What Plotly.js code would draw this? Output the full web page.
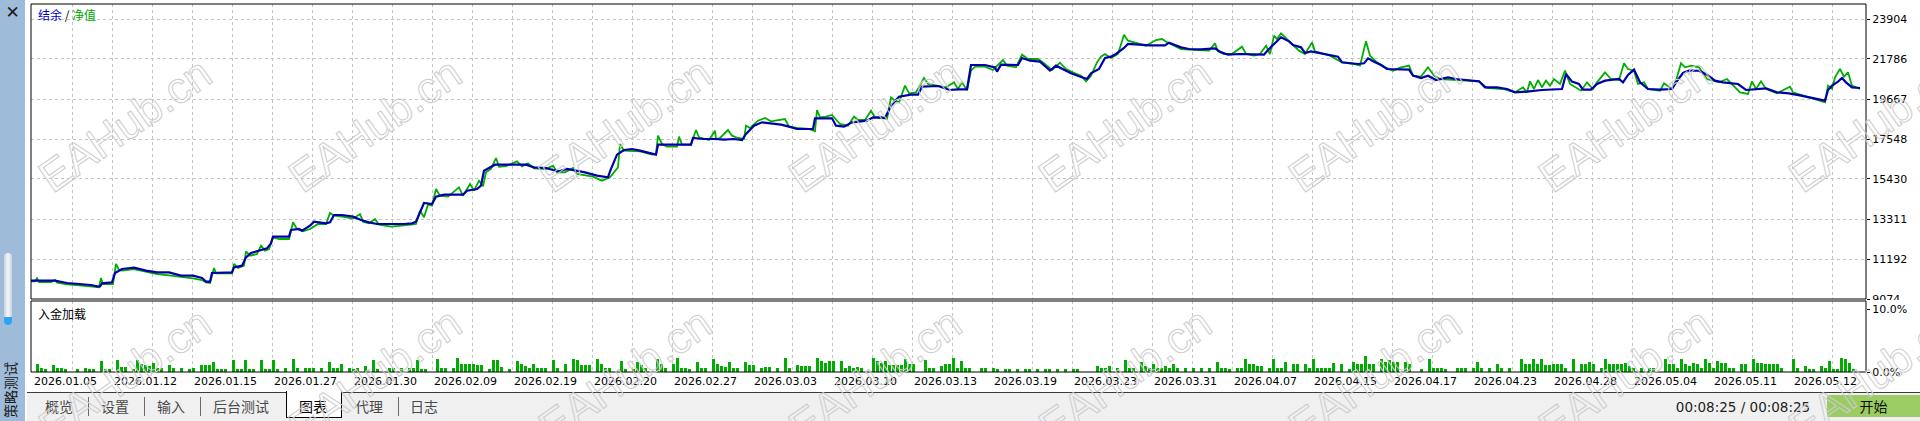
<!DOCTYPE html>
<html>
<head>
<meta charset="utf-8">
<script src="https://cdn.plot.ly/plotly-3.0.1.min.js"></script>
<style>
  html,body{margin:0;padding:0;background:#fff;width:1920px;height:421px;overflow:hidden;}
  #chart{position:absolute;left:0;top:0;width:1920px;height:421px;z-index:1;}
  .abs{position:absolute;}
  #sidebar{left:0;top:0;width:25px;height:421px;background:#9FBBDA;z-index:2;}
  #tabbar{left:27px;top:392px;width:1893px;height:29px;background:#F0F0F0;border-top:1px solid #3a3a3a;box-sizing:border-box;z-index:2;}
  .tab{top:396px;height:20px;line-height:20px;font-family:"Noto Sans CJK SC";font-size:14px;color:#4a4a4a;z-index:3;}
  .sep{top:397px;width:1px;height:19px;background:#6a6a6a;z-index:3;}
  #seltab{left:286px;top:391px;width:56px;height:27px;background:#fff;border:1.5px solid #000;border-top:none;box-sizing:border-box;z-index:3;}
  .wm{font-family:"Liberation Sans";font-size:44px;color:transparent;-webkit-text-stroke:1px #cdcdcd;white-space:nowrap;z-index:5;pointer-events:none;}
</style>
</head>
<body>
<div id="chart"></div>
<div id="chrome"></div>
<script>
// ---------------- DATA ----------------
const yTickValues = [9074, 11192, 13311, 15430, 17548, 19667, 21786, 23904];
const subTickValues = [0, 10];
const subTickText = ['0.0%', '10.0%'];
const dateLabels = ['2026.01.05','2026.01.12','2026.01.15','2026.01.27','2026.01.30','2026.02.09','2026.02.19','2026.02.20','2026.02.27','2026.03.03','2026.03.10','2026.03.13','2026.03.19','2026.03.23','2026.03.31','2026.04.07','2026.04.15','2026.04.17','2026.04.23','2026.04.28','2026.05.04','2026.05.11','2026.05.12'];
const seriesNames = ['结余', '净值'];
const subTitle = '入金加载';

// balance [deal index, value]
const balance = [[0,10045],[24,10045],[36,9921],[48,9868],[60,9815],[66,9745],[69,9745],[71,9904],[81,9957],[84,10451],[91,10663],[103,10734],[115,10575],[126,10486],[138,10486],[150,10310],[162,10310],[171,10186],[175,9992],[179,9992],[181,10451],[201,10486],[203,10751],[211,10840],[215,11281],[220,11510],[228,11634],[236,11757],[240,12022],[242,12375],[258,12375],[260,12728],[268,12781],[271,12693],[279,12958],[283,13170],[295,13082],[299,13135],[303,13523],[311,13523],[322,13435],[330,13258],[338,13135],[346,13046],[373,13046],[381,13082],[385,13170],[393,14159],[401,14106],[405,14494],[413,14600],[432,14600],[436,14812],[446,14900],[450,15077],[453,15871],[464,16189],[479,16171],[495,16189],[503,16048],[515,16013],[522,15907],[528,15836],[536,15960],[542,15907],[554,15783],[566,15606],[575,15518],[577,15518],[579,15836],[586,16719],[593,16966],[601,17019],
[609,16930],[617,16807],[625,16719],[627,17248],[660,17248],[662,17601],[672,17548],[684,17548],[693,17513],[703,17548],[711,17495],[715,17813],[723,18255],[731,18431],[742,18343],[750,18308],[758,18202],[766,18078],[782,18078],[784,18643],[801,18643],[805,18255],[813,18202],[821,18431],[836,18519],[842,18696],[854,18661],[860,19314],[868,19791],[880,19897],[887,19897],[891,20320],[907,20355],[919,20144],[927,20179],[936,20179],[940,21468],[954,21468],[964,21344],[966,21115],[970,21486],[978,21486],[987,21468],[991,21839],[999,21697],[1009,21644],[1013,21468],[1019,21168],[1025,21433],[1033,21203],[1040,21027],[1048,20868],[1056,20726],[1060,21027],[1068,21256],[1074,21839],[1080,21909],[1085,22050],[1093,22368],[1097,22580],[1111,22527],[1119,22510],[1134,22510],[1138,22651],[1150,22404],[1158,22315],[1170,22298],[1184,22351],[1189,22174],[1197,22015],[1209,22050],[1221,22015],
[1233,22015],[1237,22262],[1243,22580],[1250,22933],[1258,22721],[1262,22527],[1270,22404],[1274,22103],[1280,22192],[1292,22050],[1307,21909],[1311,21609],[1327,21521],[1333,21556],[1337,21821],[1343,21644],[1350,21468],[1356,21256],[1366,21256],[1378,21221],[1382,20903],[1390,20779],[1397,20903],[1405,20673],[1417,20815],[1425,20726],[1435,20673],[1448,20603],[1454,20285],[1466,20285],[1476,20197],[1484,20020],[1496,20055],[1511,20144],[1531,20197],[1535,20991],[1541,20585],[1548,20461],[1552,20161],[1560,20161],[1566,20461],[1574,20638],[1588,20726],[1592,20550],[1597,20938],[1603,21221],[1609,20550],[1617,20197],[1629,20161],[1641,20197],[1645,20550],[1652,21044],[1658,21168],[1668,21168],[1676,20956],[1684,20638],[1692,20550],[1707,20461],[1715,20144],[1725,20197],[1735,20232],[1746,20020],[1758,19967],[1770,19844],[1782,19703],[1794,19579],[1797,20144],[1801,20373],[1807,20585],[1811,20779],[1815,20550],[1821,20285],[1829,20250]];

// equity [deal index, value]
const equity = [[0,10010],[4,10010],[6,10169],[8,9974],[20,9974],[24,10080],[26,9939],[36,9851],[48,9798],[60,9727],[66,9692],[68,9692],[70,10186],[72,9868],[82,9868],[85,10928],[88,10610],[91,10575],[103,10663],[115,10504],[126,10398],[138,10327],[150,10257],[162,10169],[171,10080],[175,9957],[179,9921],[183,10716],[185,10433],[201,10433],[203,10928],[207,10716],[213,10840],[215,11598],[219,11369],[226,11457],[230,11899],[234,11634],[238,11722],[242,12340],[248,12252],[258,12252],[262,13135],[266,12781],[272,12658],[279,12781],[287,13046],[295,13046],[299,13629],[303,13488],[311,13435],[322,13329],[329,13576],[332,13170],[338,13082],[344,13311],[348,13011],[360,12905],[373,12976],[385,13046],[389,13753],[393,13400],[397,14070],[401,14017],[405,14900],[409,14547],[417,14494],[428,14988],[432,14547],[439,15165],[443,14812],[448,15342],[452,15041],[455,15783],[460,15960],[465,16542],[468,16083],[475,16118],[486,16365],[491,16101],[497,16260],[503,15995],[515,15960],[522,16136],[526,15783],[534,15783],[542,16013],[546,15695],[562,15553],[571,15342],[579,15518],[587,16048],[589,17284],[593,16930],
[609,16895],[615,16789],[621,16719],[625,16754],[627,17725],[631,17284],[636,17142],[646,17142],[648,17672],[651,17248],[660,17248],[665,18025],[668,17637],[678,17495],[684,17990],[685,17548],[689,17601],[697,18025],[701,17725],[707,17601],[713,17548],[715,18255],[719,18131],[727,18519],[734,18661],[740,18484],[748,18555],[754,18608],[758,18202],[766,18131],[778,18078],[784,17954],[786,19084],[789,18696],[795,18731],[801,18820],[809,18343],[817,18255],[823,18731],[827,18555],[834,18555],[840,19049],[844,18696],[850,18731],[856,18608],[860,19755],[864,19579],[868,19490],[874,20373],[878,19967],[885,20020],[893,20779],[897,20461],[907,20373],[915,20285],[923,20550],[927,20197],[931,20550],[936,20144],[940,21168],[944,21380],[954,21380],[962,21203],[972,21733],[976,21433],[985,21344],[991,22015],[997,21786],[1007,21786],[1013,21556],[1021,21203],[1029,21591],[1035,21256],[1044,21027],[1050,20903],[1055,20603],[1060,20903],[1066,21609],[1070,21909],[1074,22050],[1080,21839],[1087,22050],[1093,23074],[1097,22757],[1107,22615],[1115,22492],[1125,22792],[1131,22845],[1136,22668],[1150,22315],[1166,22262],[1178,22227],[1184,22615],[1187,22192],[1193,22050],[1201,22050],[1211,22439],[1215,22050],[1223,21962],
[1229,22050],[1235,22492],[1239,22050],[1243,23021],[1246,22845],[1250,23145],[1256,22845],[1260,22615],[1268,22227],[1274,22050],[1281,22668],[1284,22192],[1299,21962],[1311,21609],[1323,21521],[1329,21433],[1335,22721],[1339,21962],[1346,21609],[1354,21344],[1362,21168],[1370,21344],[1378,21433],[1382,20903],[1390,20850],[1397,21344],[1403,20903],[1409,20726],[1425,20673],[1448,20603],[1456,20250],[1472,20197],[1484,20020],[1492,20285],[1496,20020],[1499,20603],[1503,20197],[1507,20673],[1511,20285],[1515,20638],[1519,20373],[1523,20726],[1529,20461],[1534,21168],[1539,20461],[1550,20108],[1556,20550],[1562,20197],[1566,20550],[1574,21079],[1580,20726],[1588,20673],[1593,21556],[1597,21256],[1603,21168],[1607,20461],[1613,20550],[1617,20197],[1629,20108],[1633,20497],[1641,20197],[1645,20638],[1650,21556],[1654,21344],[1660,21433],[1668,21344],[1676,20726],[1688,20550],[1696,20726],[1703,20373],[1709,20020],[1717,19932],[1721,20603],[1725,20197],[1730,20603],[1735,20197],[1746,19967],[1759,20320],[1762,20020],[1778,19755],[1790,19579],[1794,19490],[1797,20373],[1801,20197],[1804,20815],[1809,21256],[1813,20850],[1817,21079],[1821,20373],[1829,20197]];

// deposit load [bar slot, percent]
const depositLoad = [[1,1.3],[2,0.6],[3,0.4],[5,1.1],[6,0.6],[7,0.6],[8,0.4],[11,0.4],[13,0.7],[14,0.4],[15,0.4],[17,1.7],[18,0.5],[19,0.5],[21,1.9],[22,0.8],[23,0.8],[25,0.4],[26,1.9],[27,1.2],[28,1.1],[29,1.0],[30,1.4],[31,0.6],[32,0.6],[34,1.1],[35,0.6],[37,0.6],[39,0.4],[40,0.6],[42,1.1],[43,1.1],[44,1.1],[45,1.6],[46,0.5],[47,0.5],[48,0.5],[50,1.9],[51,0.5],[52,0.5],[53,1.9],[54,0.5],[55,0.5],[57,1.9],[58,0.5],[59,0.5],[60,1.9],[61,0.5],[63,0.6],[65,2.1],[66,0.6],[68,0.6],[69,0.6],[70,0.6],[72,0.6],[74,1.6],[75,0.6],[76,0.6],[77,1.2],[79,0.6],[80,0.4],[81,0.6],[83,1.0],[85,1.9],[86,0.5],[89,0.6],[90,0.6],[92,0.6],[94,0.6],[95,0.6],[96,1.9],[97,0.4],[98,0.4],[101,2.1],[102,0.7],[103,0.7],[105,0.6],[106,2.2],[107,1.2],[108,1.2],[109,1.2],[110,1.2],[111,1.1],[112,1.1],[114,0.4],[115,1.9],
[116,1.9],[117,0.8],[119,0.4],[121,1.7],[122,1.2],[123,1.0],[124,0.6],[125,1.2],[126,0.6],[127,0.6],[128,0.6],[130,1.9],[131,0.6],[133,1.2],[135,2.0],[136,1.9],[137,1.1],[138,1.1],[139,1.1],[141,2.0],[142,1.2],[143,0.6],[144,0.6],[147,1.8],[148,0.4],[150,0.4],[151,1.6],[152,1.1],[153,0.6],[156,2.0],[157,1.2],[158,0.6],[160,1.2],[161,2.2],[162,0.6],[163,0.6],[164,0.4],[166,1.6],[167,0.6],[168,0.6],[170,2.0],[171,1.2],[172,1.0],[173,0.8],[174,1.6],[175,0.6],[176,0.6],[178,1.6],[179,1.1],[180,1.1],[182,0.6],[183,0.8],[184,0.8],[186,0.6],[188,2.2],[189,0.6],[191,1.1],[192,1.0],[193,1.0],[194,1.0],[196,2.2],[197,1.7],[198,1.4],[199,1.8],[200,1.8],[202,1.8],[203,0.6],[204,1.0],[205,0.6],[206,0.8],[207,0.6],[210,2.2],[211,1.7],[212,1.4],[213,1.7],[214,1.1],[215,1.1],[216,1.1],[217,1.1],[218,2.0],[219,1.2],[220,1.2],[223,1.9],[224,0.6],[225,0.6],[227,1.0],[228,1.2],[229,1.2],[230,2.2],[231,0.6],[232,1.7],
[233,0.6],[234,0.6],[237,0.6],[238,0.6],[240,0.6],[241,0.4],[243,0.4],[244,0.4],[246,0.4],[248,0.4],[249,0.4],[251,0.4],[253,0.4],[254,0.4],[256,0.4],[258,0.4],[260,0.4],[261,0.4],[266,1.0],[267,0.6],[268,0.6],[269,1.0],[271,0.6],[273,1.9],[274,0.6],[275,0.6],[277,1.6],[278,1.0],[279,0.6],[280,1.2],[281,0.6],[282,0.6],[283,1.0],[284,0.6],[285,1.2],[286,0.6],[288,0.6],[290,0.6],[292,0.6],[294,0.6],[296,1.6],[297,0.6],[298,0.6],[299,0.4],[301,0.6],[302,0.6],[303,2.0],[304,1.2],[305,1.2],[306,1.0],[307,1.0],[309,0.6],[310,2.0],[311,0.6],[312,0.6],[313,1.6],[315,1.2],[316,1.2],[318,1.2],[319,0.6],[320,2.0],[321,0.6],[322,0.6],[323,0.6],[324,0.6],[325,1.4],[327,1.2],[329,0.4],[330,1.6],[331,1.2],[332,1.2],[333,2.5],[334,1.2],[335,1.2],[337,2.0],[338,1.6],[339,1.9],[340,1.6],[341,1.6],[343,1.6],[344,1.2],[347,0.4],[349,2.0],
[350,0.6],[351,0.6],[352,0.6],[353,0.4],[356,0.6],[357,0.6],[358,0.6],[360,0.6],[361,1.6],[362,0.6],[364,0.6],[366,1.2],[367,0.6],[369,0.6],[372,2.0],[373,1.2],[374,1.2],[375,2.0],[376,1.2],[377,2.0],[378,1.1],[379,1.1],[380,1.2],[381,1.2],[382,1.2],[383,0.6],[385,2.0],[387,1.2],[388,1.2],[389,1.6],[390,1.2],[392,0.6],[393,2.0],[394,1.2],[395,1.2],[396,1.2],[397,1.2],[398,1.4],[399,1.0],[400,0.6],[402,0.6],[404,0.6],[405,0.6],[408,2.0],[409,1.2],[410,1.2],[411,0.6],[412,2.0],[413,1.2],[414,1.0],[415,1.4],[416,1.2],[417,0.6],[418,2.0],[419,1.4],[420,0.6],[421,1.8],[422,1.4],[423,1.4],[424,0.6],[425,0.6],[427,1.2],[428,1.2],[430,2.0],[431,1.4],[432,1.4],[433,1.3],[434,1.3],[435,1.2],[436,1.2],[437,0.6],[440,2.0],[441,0.6],[443,1.0],[444,0.4],[445,0.4],[447,1.0],[448,0.6],[449,1.8],[450,0.4],[451,0.4],[452,2.3],[453,2.0],[454,1.4],[455,0.4]];

const tabLabels = ['概览','设置','输入','后台测试','图表','代理','日志'];
const timerText = '00:08:25 / 00:08:25';
const startLabel = '开始';
const sideTitle = '策略测试';
const watermarkText = 'EAHub.cn';

// ---------------- GEOMETRY ----------------
const L = 31, R = 1866, T = 4, B = 372;
const mainBottom = 299, subTop = 301;
const xSpan = R - L;
const pyP = v => (B - v) / (B - T);
const pxP = v => (v - L) / (R - L);
const yMin = 9074, yPerPx = 2118.57 / 40;
const yMax = yMin + (mainBottom - T) * yPerPx;
const subMax = 10 * (B - subTop) / (B - 309);

const gridX = [];
for (let k = 0; k < 45; k++) gridX.push(41.3 + 40 * k);

const traces = [
  {x: equity.map(p => p[0]), y: equity.map(p => p[1]), type: 'scatter', mode: 'lines',
   line: {color: '#00AE00', width: 1.8}, xaxis: 'x', yaxis: 'y', hoverinfo: 'skip', name: seriesNames[1]},
  {x: balance.map(p => p[0]), y: balance.map(p => p[1]), type: 'scatter', mode: 'lines',
   line: {color: '#0000AA', width: 2.2}, xaxis: 'x', yaxis: 'y', hoverinfo: 'skip', name: seriesNames[0]},
  {x: depositLoad.map(p => p[0] * 4 + 2), y: depositLoad.map(p => p[1]), type: 'bar', width: 3,
   marker: {color: '#00AC00', line: {width: 0}}, xaxis: 'x', yaxis: 'y2', hoverinfo: 'skip', name: subTitle}
];

const annotations = [
  {xref: 'paper', yref: 'paper', x: pxP(36), y: pyP(15), xanchor: 'left', yanchor: 'middle', showarrow: false,
   text: '<span style="color:#0000C8">' + seriesNames[0] + '</span> / <span style="color:#00A800">' + seriesNames[1] + '</span>',
   font: {family: 'Noto Sans CJK SC', size: 12, color: '#000'}},
  {xref: 'paper', yref: 'paper', x: pxP(36), y: pyP(313), xanchor: 'left', yanchor: 'middle', showarrow: false,
   text: subTitle, font: {family: 'Noto Sans CJK SC', size: 12, color: '#000'}}
];
dateLabels.forEach((t, i) => {
  annotations.push({xref: 'x', yref: 'paper', x: 1 + 80 * i, y: pyP(381), xanchor: 'left', yanchor: 'middle',
    showarrow: false, text: t, font: {family: 'DejaVu Sans', size: 11, color: '#000'}});
});

const layout = {
  width: 1920, height: 421,
  margin: {l: L, r: 1920 - R, t: T, b: 421 - B, pad: 0},
  paper_bgcolor: 'rgba(0,0,0,0)', plot_bgcolor: '#ffffff',
  showlegend: false, bargap: 0,
  font: {family: 'DejaVu Sans', size: 11, color: '#000'},
  xaxis: {range: [0, xSpan], tickmode: 'array', tickvals: gridX, showticklabels: false, ticks: '',
    showgrid: true, gridcolor: '#C4C4C4', gridwidth: 1, griddash: '3px,3px', zeroline: false,
    showline: false, anchor: 'y2', fixedrange: true},
  yaxis: {domain: [pyP(mainBottom), 1], range: [yMin, yMax], side: 'right', tickmode: 'array',
    tickvals: yTickValues, ticktext: yTickValues.map(String), ticks: 'outside', ticklen: 3, tickcolor: '#000',
    showgrid: true, gridcolor: '#C4C4C4', gridwidth: 1, griddash: '3px,3px', zeroline: false, showline: false,
    anchor: 'x', tickfont: {family: 'DejaVu Sans', size: 11, color: '#000'}, fixedrange: true},
  yaxis2: {domain: [0, pyP(subTop)], range: [0, subMax], side: 'right', tickmode: 'array',
    tickvals: subTickValues, ticktext: subTickText, ticks: 'outside', ticklen: 3, tickcolor: '#000',
    showgrid: false, zeroline: false, showline: false, anchor: 'x',
    tickfont: {family: 'DejaVu Sans', size: 11, color: '#000'}, fixedrange: true},
  shapes: [
    {type: 'rect', xref: 'paper', yref: 'paper', x0: 0, x1: 1, y0: pyP(mainBottom), y1: 1, line: {color: '#000', width: 1}, layer: 'above'},
    {type: 'rect', xref: 'paper', yref: 'paper', x0: 0, x1: 1, y0: 0, y1: pyP(subTop), line: {color: '#000', width: 1}, layer: 'above'}
  ],
  annotations: annotations
};

Plotly.newPlot('chart', traces, layout, {staticPlot: true, displayModeBar: false});

// ---------------- CHROME ----------------
const chrome = document.getElementById('chrome');
function el(cls, style, text, id) {
  const d = document.createElement('div');
  d.className = 'abs ' + (cls || '');
  if (id) d.id = id;
  Object.assign(d.style, style || {});
  if (text !== undefined) d.textContent = text;
  chrome.appendChild(d);
  return d;
}
// clip bottom of lowest main axis label like the terminal does
el('', {left: '1867px', top: '300px', width: '53px', height: '4px', background: '#fff', zIndex: 2});

el('', {}, undefined, 'sidebar');
el('', {left: '0px', top: '2px', width: '25px', height: '20px', lineHeight: '20px', textAlign: 'center',
  fontFamily: 'DejaVu Sans', fontWeight: 'bold', fontSize: '17px', color: '#1a1a1a', zIndex: 3}, '✕');
el('', {left: '4px', top: '253px', width: '8px', height: '72px', borderRadius: '4px',
  background: 'linear-gradient(to right,#c9d3de,#f4f7fa,#c9d3de)', zIndex: 3});
el('', {left: '4px', top: '317px', width: '8px', height: '8px', borderRadius: '0 0 4px 4px',
  background: '#2FA3F2', zIndex: 4});
el('', {left: '-20px', top: '380px', width: '60px', height: '20px', lineHeight: '20px', textAlign: 'center',
  fontFamily: 'Noto Sans CJK SC', fontSize: '14px', color: '#1a1a1a', transform: 'rotate(-90deg)', zIndex: 3}, sideTitle);

el('', {}, undefined, 'tabbar');
el('', {}, undefined, 'seltab');

const tabLeft = [45, 101, 157, 213, 299, 355, 410];
tabLabels.forEach((t, i) => {
  el('tab', {left: tabLeft[i] + 'px', color: i === 4 ? '#000' : '#4a4a4a'}, t);
});
[88, 144, 200, 398].forEach(x => el('sep', {left: x + 'px'}));

el('', {left: '1660px', top: '397px', width: '166px', height: '20px', lineHeight: '20px', textAlign: 'center',
  fontFamily: 'DejaVu Sans', fontSize: '13.5px', color: '#222', zIndex: 3}, timerText);
el('', {left: '1827px', top: '395px', width: '93px', height: '22px', lineHeight: '22px', textAlign: 'center',
  background: '#9BCB63', fontFamily: 'Noto Sans CJK SC', fontSize: '14px', color: '#111', zIndex: 3}, startLabel);

// watermarks
for (let row = 0; row < 2; row++) {
  for (let k = 0; k < 8; k++) {
    el('wm', {left: (125 + 250 * k) + 'px', top: (125 + 250 * row) + 'px',
      transform: 'translate(-50%,-50%) rotate(-35deg)'}, watermarkText);
  }
}
</script>
</body>
</html>
